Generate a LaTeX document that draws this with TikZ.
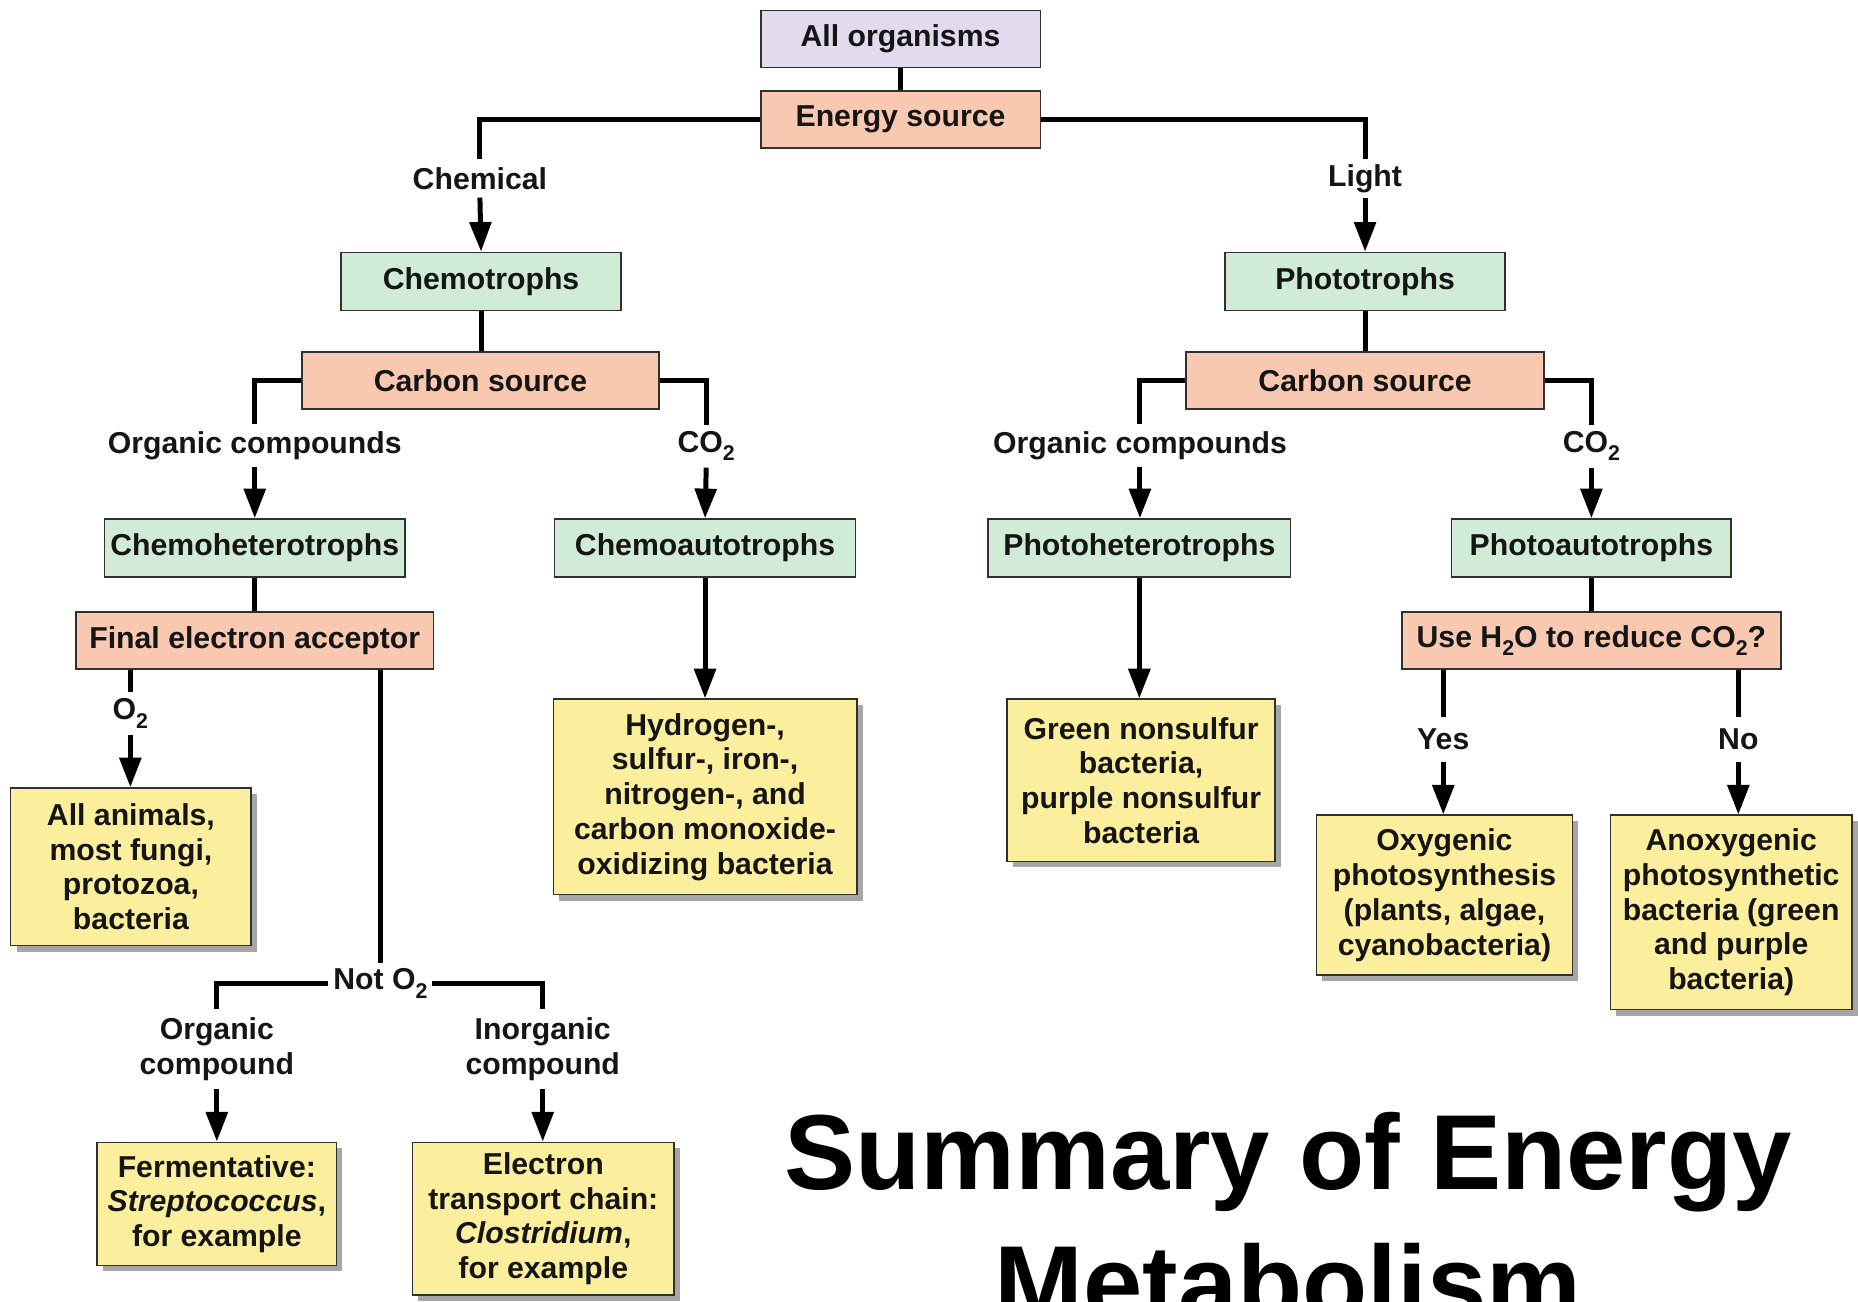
\documentclass[tikz,border=0pt]{standalone}
\usepackage{fontspec}
\setmainfont{Liberation Sans}
\usetikzlibrary{arrows.meta,shadows}
\definecolor{lavfill}{HTML}{E3DAEE}
\definecolor{salfill}{HTML}{F8C8B0}
\definecolor{grnfill}{HTML}{D0EBD6}
\definecolor{ylwfill}{HTML}{FBEF9E}
\definecolor{boxline}{HTML}{303030}
\definecolor{txt}{HTML}{151515}
\newcommand\bxfont{\fontsize{25.5}{29.3}\selectfont\bfseries}
\newcommand\ttlfont{\fontsize{90}{110}\selectfont\bfseries}
\newcommand\lowtwo{\raisebox{-0.28em}{\fontsize{18}{18}\selectfont 2}}
\tikzset{
  box/.style={draw=boxline, line width=1.3pt, inner sep=1pt, align=center, font=\bxfont, text=txt},
  lav/.style={box, fill=lavfill, minimum height=48pt},
  sal/.style={box, fill=salfill, minimum height=48pt},
  grn/.style={box, fill=grnfill, minimum height=49pt},
  ybox/.style={box, fill=ylwfill, drop shadow={shadow xshift=5pt, shadow yshift=-5pt, fill=black, opacity=0.35}},
  lbl/.style={inner sep=0pt, align=center, font=\bxfont, text=txt},
  conn/.style={line width=4.2pt, draw=black},
  arr/.style={conn, -{Triangle[width=18pt,length=25pt]}},
}
\begin{document}
\begin{tikzpicture}[x=1pt,y=-1pt]
\useasboundingbox (0,0) rectangle (1568,1098);
\fill[white] (0,0) rectangle (1568,1098);
\clip (0,0) rectangle (1568,1098);

% boxes
\node[lav, minimum width=236pt] (allorg) at (760,33) {All organisms};
\node[sal, minimum width=236pt] (energy) at (760,101) {Energy source};
\node[grn, minimum width=236pt] (chemo) at (406,237.5) {Chemotrophs};
\node[grn, minimum width=236pt] (photo) at (1152,237.5) {Phototrophs};
\node[sal, minimum width=301pt] (carbL) at (405.5,321) {Carbon source};
\node[sal, minimum width=302pt] (carbR) at (1152,321) {Carbon source};
\node[grn, minimum width=254pt] (chemohet) at (215,462.5) {Chemoheterotrophs};
\node[grn, minimum width=254pt] (chemoaut) at (595,462.5) {Chemoautotrophs};
\node[grn, minimum width=255pt] (photohet) at (961.5,462.5) {Photoheterotrophs};
\node[grn, minimum width=236pt] (photoaut) at (1343,462.5) {Photoautotrophs};
\node[sal, minimum width=302pt] (fea) at (215,540.5) {Final electron acceptor};
\node[sal, minimum width=320pt] (useh2o) at (1343,540.5) {Use H\lowtwo O to reduce CO\lowtwo?};

\node[ybox, minimum width=203pt, minimum height=133pt] (animals) at (110.5,731.5) {All animals,\\most fungi,\\protozoa,\\bacteria};
\node[ybox, minimum width=256pt, minimum height=165pt] (hydro) at (595,672.5) {Hydrogen-,\\sulfur-, iron-,\\nitrogen-, and\\carbon monoxide-\\oxidizing bacteria};
\node[ybox, minimum width=226pt, minimum height=137pt] (greenns) at (963,658.5) {Green nonsulfur\\bacteria,\\purple nonsulfur\\bacteria};
\node[ybox, minimum width=216pt, minimum height=135pt] (oxy) at (1219,755.5) {Oxygenic\\photosynthesis\\(plants, algae,\\cyanobacteria)};
\node[ybox, minimum width=204pt, minimum height=164pt] (anoxy) at (1461,770) {Anoxygenic\\photosynthetic\\bacteria (green\\and purple\\bacteria)};
\node[ybox, minimum width=202pt, minimum height=104pt] (ferm) at (183,1016) {Fermentative:\\\textit{Streptococcus},\\for example};
\node[ybox, minimum width=221pt, minimum height=129pt] (etc) at (458.5,1028.5) {Electron\\transport chain:\\\textit{Clostridium},\\for example};

% labels
\node[lbl, minimum height=32pt] (chemical) at (405,150.5) {Chemical};
\node[lbl, minimum height=32pt] (light) at (1152,150.5) {Light};
\node[lbl, minimum height=36pt] (orgL) at (215,376) {Organic compounds};
\node[lbl, minimum height=36pt] (co2L) at (596,376.5) {CO\lowtwo};
\node[lbl, minimum height=36pt] (orgR) at (962,376) {Organic compounds};
\node[lbl, minimum height=36pt] (co2R) at (1343,376.5) {CO\lowtwo};
\node[lbl, minimum height=36pt] (o2) at (110,602) {O\lowtwo};
\node[lbl, minimum height=34pt, inner xsep=4pt] (noto2) at (321,830) {Not O\lowtwo};
\node[lbl, minimum height=67pt] (orgc) at (183,885.5) {Organic\\compound};
\node[lbl, minimum height=67pt] (inorgc) at (458,885.5) {Inorganic\\compound};
\node[lbl, minimum height=38pt] (yes) at (1218,624) {Yes};
\node[lbl, minimum height=38pt] (no) at (1467,624) {No};

% connectors
\draw[conn] (allorg.south) -- (energy.north);
\draw[conn] (energy.west) -| (chemical.north);
\draw[arr] (chemical.south) -- (chemo.north);
\draw[conn] (energy.east) -| (light.north);
\draw[arr] (light.south) -- (photo.north);
\draw[conn] (chemo.south) -- (chemo.south |- carbL.north);
\draw[conn] (photo.south) -- (carbR.north);
\draw[conn] (carbL.west) -| (orgL.north);
\draw[arr] (orgL.south) -- (chemohet.north);
\draw[conn] (carbL.east) -| (co2L.north);
\draw[arr] (co2L.south) -- (chemoaut.north);
\draw[conn] (carbR.west) -| (orgR.north);
\draw[arr] (orgR.south) -- (orgR.south |- photohet.north);
\draw[conn] (carbR.east) -| (co2R.north);
\draw[arr] (co2R.south) -- (photoaut.north);
\draw[conn] (chemohet.south) -- (fea.north);
\draw[conn] (fea.south -| o2.north) -- (o2.north);
\draw[arr] (o2.south) -- (o2.south |- animals.north);
\draw[conn] (fea.south -| noto2.north) -- (noto2.north);
\draw[conn] (noto2.west) -| (orgc.north);
\draw[arr] (orgc.south) -- (ferm.north);
\draw[conn] (noto2.east) -| (inorgc.north);
\draw[arr] (inorgc.south) -- (inorgc.south |- etc.north);
\draw[arr] (chemoaut.south) -- (hydro.north);
\draw[arr] (photohet.south) -- (photohet.south |- greenns.north);
\draw[conn] (photoaut.south) -- (useh2o.north);
\draw[conn] (useh2o.south -| yes.north) -- (yes.north);
\draw[arr] (yes.south) -- (yes.south |- oxy.north);
\draw[conn] (useh2o.south -| no.north) -- (no.north);
\draw[arr] (no.south) -- (no.south |- anoxy.north);

% title
\node[font=\ttlfont, text=black, inner sep=0pt, anchor=base] (title1) at (1087,1004) {Summary of Energy};
\node[font=\ttlfont, text=black, inner sep=0pt, anchor=base] (title2) at (1087,1114) {Metabolism};
\end{tikzpicture}
\end{document}
